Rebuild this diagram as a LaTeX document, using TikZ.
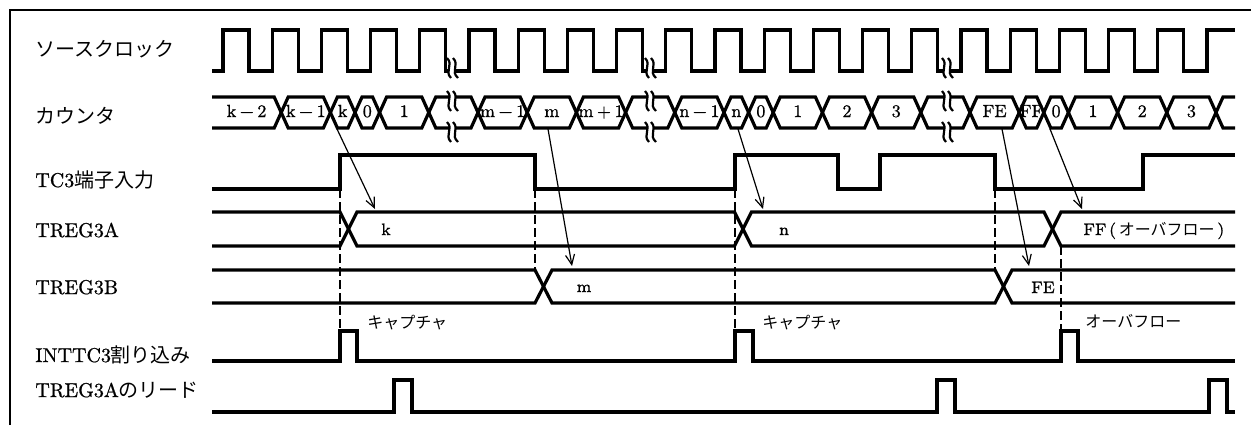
\documentclass[tikz,border=0pt]{standalone}
\usepackage{fontspec}
\setmainfont{Latin Modern Roman}[FakeBold=0.8]
\newfontfamily\jp{Noto Sans CJK JP}
\usetikzlibrary{arrows.meta}
\newcommand\brkmark[2]{%
  \fill[white] ({#1-5},{#2-10}) .. controls ({#1+2},{#2-3}) and ({#1-8},{#2+3}) .. ({#1-1},{#2+10})
    -- ({#1+6},{#2+10}) .. controls ({#1-2},{#2+3}) and ({#1+8},{#2-3}) .. ({#1+1},{#2-10}) -- cycle;
  \draw[brk] ({#1-5},{#2-10}) .. controls ({#1+2},{#2-3}) and ({#1-8},{#2+3}) .. ({#1-1},{#2+10});
  \draw[brk] ({#1+1},{#2-10}) .. controls ({#1+8},{#2-3}) and ({#1-2},{#2+3}) .. ({#1+6},{#2+10});
}
\newcommand\mn{\kern0.2em−\kern0.2em}
\newcommand\pl{\kern0.2em+\kern0.2em}
\begin{document}
\begin{tikzpicture}[x=0.5pt,y=-0.5pt,
  sig/.style={line width=1.6pt},
  dline/.style={line width=0.9pt,dash pattern=on 4.5pt off 2pt},
  arr/.style={line width=0.6pt,-{Straight Barb[length=5pt,width=4.5pt]}},
  brk/.style={line width=1.1pt},
  lab/.style={anchor=base west,inner sep=0pt,font=\fontsize{10}{12}\selectfont},
  val/.style={anchor=base,inner sep=0pt,font=\fontsize{8.8}{10}\selectfont},
  reg/.style={anchor=base,inner sep=0pt,font=\fontsize{8.3}{10}\selectfont},
  note/.style={anchor=base west,inner sep=0pt,font=\fontsize{8}{10}\selectfont\jp},
]
\useasboundingbox (0,0) rectangle (1251,425);
% frame
\draw[line width=1pt] (10,425) -- (10,10) -- (1251,10);

% signal names
\node[lab] (lclk) at (35,56) {\jp ソースクロック};
\node[lab] (lcnt) at (35,123) {\jp カウンタ};
\node[lab] (ltc) at (35,187) {TC3{\jp 端子入力}};
\node[lab] (lra) at (35,237) {TREG3A};
\node[lab] (lrb) at (35,294) {TREG3B};
\node[lab] (lint) at (35,362) {INTTC3{\jp 割り込み}};
\node[lab] (lrd) at (35,397) {TREG3A{\jp のリード}};

% source clock
\draw[sig] (212,71) \foreach \k in {0,...,19}{ -- ({223+49.2*\k},71) -- ({223+49.2*\k},30) -- ({249+49.2*\k},30) -- ({249+49.2*\k},71)} -- (1207,71) -- (1207,30) -- (1235,30);

% counter
\draw[sig] (212,97) -- (274.2,97) -- (281.2,112.5) -- (274.2,128) -- (212,128);
\node[val] (c0) at (246.6,117) {k\mn 2};
\foreach \a/\b/\t [count=\i] in {
  281.2/330.4/{k\mn 1}, 330.4/355/k, 355/379.6/0, 379.6/428.8/1, 428.8/478/{},
  478/527.2/{m\mn 1}, 527.2/576.4/m, 576.4/625.6/{m\pl 1}, 625.6/674.8/{},
  674.8/724/{n\mn 1}, 724/748.6/n, 748.6/773.2/0, 773.2/822.4/1, 822.4/871.6/2,
  871.6/920.8/3, 920.8/970/{}, 970/1019.2/FE, 1019.2/1043.8/FF, 1043.8/1068.4/0,
  1068.4/1117.6/1, 1117.6/1166.8/2, 1166.8/1216/3}{
  \draw[sig] (\a,112.5) -- ({\a+7},97) -- ({\b-7},97) -- (\b,112.5) -- ({\b-7},128) -- ({\a+7},128) -- cycle;
  \node[val] (c\i) at ({(\a+\b)/2},117) {\t};
}
\draw[sig] (1235,97) -- (1223,97) -- (1216,112.5) -- (1223,128) -- (1235,128);

% TC3 input
\draw[sig] (212,189) -- (340,189) -- (340,155) -- (535,155) -- (535,189) -- (735,189) -- (735,155) -- (838,155) -- (838,189) -- (880,189) -- (880,155) -- (995,155) -- (995,189) -- (1143,189) -- (1143,155) -- (1235,155);

% TREG3A
\draw[sig] (212,212) -- (340,212) -- (348.5,229) -- (340,246) -- (212,246);
\draw[sig] (348.5,229) -- (357,212) -- (734.5,212) -- (743,229) -- (734.5,246) -- (357,246) -- cycle;
\draw[sig] (743,229) -- (751.5,212) -- (1044,212) -- (1052.5,229) -- (1044,246) -- (751.5,246) -- cycle;
\draw[sig] (1235,212) -- (1061,212) -- (1052.5,229) -- (1061,246) -- (1235,246);
\node[reg] (tk) at (386,235) {k};
\node[reg] (tn) at (784,235) {n};
\node[anchor=base west,inner sep=0pt,font=\fontsize{8.3}{10}\selectfont] (tff) at (1083,235) {FF\,(\,{\jp\fontsize{8}{10}\selectfont オーバフロー}\,)};

% TREG3B
\draw[sig] (212,270) -- (535,270) -- (543.5,286.5) -- (535,303) -- (212,303);
\draw[sig] (543.5,286.5) -- (552,270) -- (995,270) -- (1003.5,286.5) -- (995,303) -- (552,303) -- cycle;
\draw[sig] (1235,270) -- (1012,270) -- (1003.5,286.5) -- (1012,303) -- (1235,303);
\node[reg] (tm) at (584,292) {m};
\node[reg] (tfe) at (1043,293) {FE};

% INTTC3
\draw[sig] (212,361) -- (340,361) -- (340,331) -- (357,331) -- (357,361) -- (735,361) -- (735,331) -- (753,331) -- (753,361) -- (1061,361) -- (1061,331) -- (1078,331) -- (1078,361) -- (1235,361);
\node[note] (cap1) at (367,328) {キャプチャ};
\node[note] (cap2) at (762,328) {キャプチャ};
\node[note] (ovf) at (1085,327) {オーバフロー};

% TREG3A read
\draw[sig] (212,412) -- (394,412) -- (394,380) -- (412,380) -- (412,412) -- (937,412) -- (937,380) -- (955,380) -- (955,412) -- (1209,412) -- (1209,380) -- (1227,380) -- (1227,412) -- (1235,412);

% dashed guides
\coordinate (d1a) at (340,189); \coordinate (d1b) at (340,331);
\coordinate (d2a) at (535,189); \coordinate (d2b) at (535,270);
\coordinate (d3a) at (735,189); \coordinate (d3b) at (735,331);
\coordinate (d4a) at (995,189); \coordinate (d4b) at (995,270);
\coordinate (d5a) at (1061,246); \coordinate (d5b) at (1061,331);
\draw[dline] (d1a) -- (d1b);
\draw[dline] (d2a) -- (d2b);
\draw[dline] (d3a) -- (d3b);
\draw[dline] (d4a) -- (d4b);
\draw[dline] (d5a) -- (d5b);

% capture arrows
\coordinate (a1s) at (337,129); \coordinate (a1e) at (375,209);
\coordinate (a2s) at (548,129); \coordinate (a2e) at (572,266);
\coordinate (a3s) at (738,129); \coordinate (a3e) at (763,209);
\coordinate (a4s) at (1002,129); \coordinate (a4e) at (1029,266);
\coordinate (a5s) at (1050,129); \coordinate (a5e) at (1082,209);
\draw[arr] (a1s) -- (a1e);
\draw[arr] (a2s) -- (a2e);
\draw[arr] (a3s) -- (a3e);
\draw[arr] (a4s) -- (a4e);
\draw[arr] (a5s) -- (a5e);

% break marks
\foreach \x in {452,650,947}{
  \brkmark{\x}{68}
  \brkmark{\x}{101}
  \brkmark{\x}{132}
}
\end{tikzpicture}
\end{document}
